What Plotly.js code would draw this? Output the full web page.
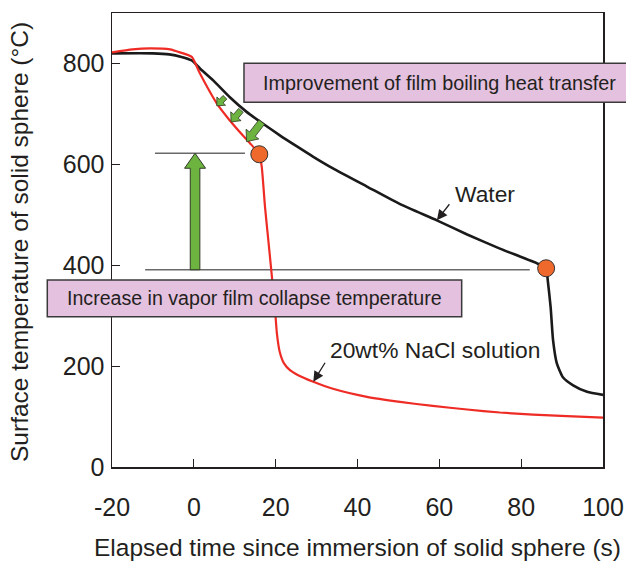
<!DOCTYPE html>
<html><head><meta charset="utf-8">
<script src="https://cdn.plot.ly/plotly-3.0.1.min.js"></script>
<style>html,body{margin:0;padding:0;background:#fff}</style>
</head><body><div id="chart" style="width:626px;height:561px"></div>
<script>
// ---- data ----
const waterTime = [-20, -10, -6, -3, -0.5, 1.5, 4.8, 8.8, 12.9, 17.0, 21.1, 25.1, 29.2, 34.0, 42.3, 50.4, 59.4, 66.8, 74.8, 84.1, 86.1, 86.5, 87.2, 87.8, 88.7, 90.2, 92.7, 96.1, 100];
const waterTemp = [820, 820, 818, 813, 806, 790, 766, 733, 704, 680, 657, 636, 615, 592, 556, 521, 489, 461, 433, 403, 394, 370, 317, 251, 206, 178, 162, 149, 143];

const naclTime = [-20, -15, -10.7, -5.8, -3.4, -0.5, 1.5, 5.6, 8.8, 12.0, 13.7, 16.0, 16.6, 17.4, 18.2, 19.0, 19.8, 20.3, 21.0, 22.0, 23.5, 25.5, 29.2, 34.0, 42.3, 50.4, 58.4, 66.8, 74.8, 82.9, 91.2, 100];
const naclTemp = [822, 828, 830, 828, 822, 813, 780, 721, 687, 657, 642, 620, 595, 515, 450, 384, 317, 265, 228, 206, 192, 182, 169, 155, 139, 129, 121, 114, 108, 104, 101, 98];

// vapor film collapse points (orange markers)
const collapseTime = [16.0, 86.1];
const collapseTemp = [620, 394];

// reference levels drawn as thin lines
const levelTemp = [622, 391];
const levelFrom = [-9.5, -11.9];
const levelTo = [12.5, 82.1];

// green block arrows: tails on the water curve, tips on the NaCl curve
const smallArrowTail = [[7.6, 733], [11.5, 707], [16.6, 684]];
const smallArrowTip = [[5.6, 716], [9.1, 684], [12.9, 645]];
const bigArrowTime = 0.3;

const xTicks = [-20, 0, 20, 40, 60, 80, 100];
const yTicks = [0, 200, 400, 600, 800];

// ---- geometry helpers ----
const SX = 491 / 120, SY = 454 / 900; // px per data unit
function blockArrow(tail, tip, w, hw, hl) {
  const x0 = tail[0] * SX, y0 = tail[1] * SY, x1 = tip[0] * SX, y1 = tip[1] * SY;
  const dx = x1 - x0, dy = y1 - y0, L = Math.hypot(dx, dy);
  const ux = dx / L, uy = dy / L, nx = -uy, ny = ux;
  const bx = x1 - ux * hl, by = y1 - uy * hl;
  const pts = [
    [x0 + nx * w, y0 + ny * w], [bx + nx * w, by + ny * w], [bx + nx * hw, by + ny * hw],
    [x1, y1],
    [bx - nx * hw, by - ny * hw], [bx - nx * w, by - ny * w], [x0 - nx * w, y0 - ny * w]
  ];
  return 'M' + pts.map(p => (p[0] / SX).toFixed(4) + ',' + (p[1] / SY).toFixed(4)).join(' L') + ' Z';
}

const FONT = 'Liberation Sans, Arial, Helvetica, sans-serif';
const INK = '#231f20';
const GREEN = '#6cb33f';
const PINK = '#e4c1df';

const shapes = [];
for (let i = 0; i < levelTemp.length; i++) {
  shapes.push({type: 'line', xref: 'x', yref: 'y', x0: levelFrom[i], x1: levelTo[i], y0: levelTemp[i], y1: levelTemp[i],
    line: {color: '#6a6a6a', width: 1.5}, layer: 'below'});
}
const sizes = [[2.6, 6, 6.5], [3, 6.8, 7.5], [3.6, 8, 9.5]];
for (let i = 0; i < smallArrowTail.length; i++) {
  shapes.push({type: 'path', xref: 'x', yref: 'y', path: blockArrow(smallArrowTail[i], smallArrowTip[i], ...sizes[i]),
    fillcolor: GREEN, line: {color: '#2f3a25', width: 0.8}, layer: 'above'});
}
shapes.push({type: 'path', xref: 'x', yref: 'y',
  path: blockArrow([bigArrowTime, levelTemp[1]], [bigArrowTime, levelTemp[0]], 4.8, 10.5, 15),
  fillcolor: GREEN, line: {color: '#2f3a25', width: 1}, layer: 'above'});
// label boxes (paper coordinates)
shapes.push({type: 'rect', xref: 'paper', yref: 'paper', x0: 0.2688, x1: 1.08, y0: 0.8033, y1: 0.8892,
  fillcolor: PINK, line: {color: '#3a3a3a', width: 1.5}, layer: 'above'});
shapes.push({type: 'rect', xref: 'paper', yref: 'paper', x0: -0.1318, x1: 0.7122, y0: 0.3311, y1: 0.4119,
  fillcolor: PINK, line: {color: '#3a3a3a', width: 1.5}, layer: 'above'});

const annotations = [
  {xref: 'paper', yref: 'paper', x: 0.3035, y: 0.8463, xanchor: 'left', yanchor: 'middle', showarrow: false,
    text: 'Improvement of film boiling heat transfer', font: {family: FONT, size: 19.8, color: INK}},
  {xref: 'paper', yref: 'paper', x: 0.2902, y: 0.3716, xanchor: 'center', yanchor: 'middle', showarrow: false,
    text: 'Increase in vapor film collapse temperature', font: {family: FONT, size: 19.6, color: INK}},
  {xref: 'x', yref: 'y', x: 63.3, y: 542, xanchor: 'left', yanchor: 'middle', showarrow: false,
    text: 'Water', font: {family: FONT, size: 22.8, color: INK}},
  {xref: 'x', yref: 'y', x: 32.8, y: 232, xanchor: 'left', yanchor: 'middle', showarrow: false,
    text: '20wt% NaCl solution', font: {family: FONT, size: 22.8, color: INK}},
  {xref: 'x', yref: 'y', x: waterTime[16], y: waterTemp[16], ax: 14, ay: -18, text: ' ', font: {size: 1},
    showarrow: true, arrowhead: 2, arrowsize: 1.6, arrowwidth: 1.3, arrowcolor: INK, standoff: 0},
  {xref: 'x', yref: 'y', x: naclTime[22], y: naclTemp[22], ax: 13, ay: -21, text: ' ', font: {size: 1},
    showarrow: true, arrowhead: 2, arrowsize: 1.6, arrowwidth: 1.3, arrowcolor: INK, standoff: 0},
  // y-axis title
  {xref: 'paper', yref: 'paper', x: -0.1874, y: 0.4956, xanchor: 'center', yanchor: 'middle', showarrow: false,
    textangle: -90, text: 'Surface temperature of solid sphere (°C)', font: {family: FONT, size: 24.5, color: INK}}
];

const traces = [
  {x: waterTime, y: waterTemp, mode: 'lines', line: {color: '#1a1a1a', width: 2.6, shape: 'spline', smoothing: 0.5}, name: 'Water'},
  {x: naclTime, y: naclTemp, mode: 'lines', line: {color: '#ee2b24', width: 2.2, shape: 'spline', smoothing: 0.5}, name: '20wt% NaCl solution'},
  {x: collapseTime, y: collapseTemp, mode: 'markers', marker: {size: 17, color: '#f0692c', line: {color: '#333', width: 1}}, name: 'collapse'}
];

const axisCommon = {
  showgrid: false, zeroline: false, showline: true, mirror: true, linecolor: INK, linewidth: 1.5,
  ticks: 'inside', ticklen: 8, tickwidth: 1.2, tickcolor: INK,
  tickfont: {family: FONT, size: 25, color: INK}, fixedrange: true
};

const layout = {
  width: 626, height: 561, autosize: false,
  margin: {l: 112, r: 23, t: 13, b: 94},
  paper_bgcolor: '#fff', plot_bgcolor: '#fff', showlegend: false,
  xaxis: Object.assign({}, axisCommon, {range: [-20, 100], tickvals: xTicks, ticktext: xTicks.map(String),
    ticklabelstandoff: 17,
    title: {text: 'Elapsed time since immersion of solid sphere (s)', font: {family: FONT, size: 24.5, color: INK}, standoff: 24}}),
  yaxis: Object.assign({}, axisCommon, {range: [0, 900], tickvals: yTicks, ticktext: yTicks.map(String),
    ticklabelstandoff: 1}),
  shapes: shapes, annotations: annotations
};

Plotly.newPlot('chart', traces, layout, {displayModeBar: false, staticPlot: true});
</script></body></html>
